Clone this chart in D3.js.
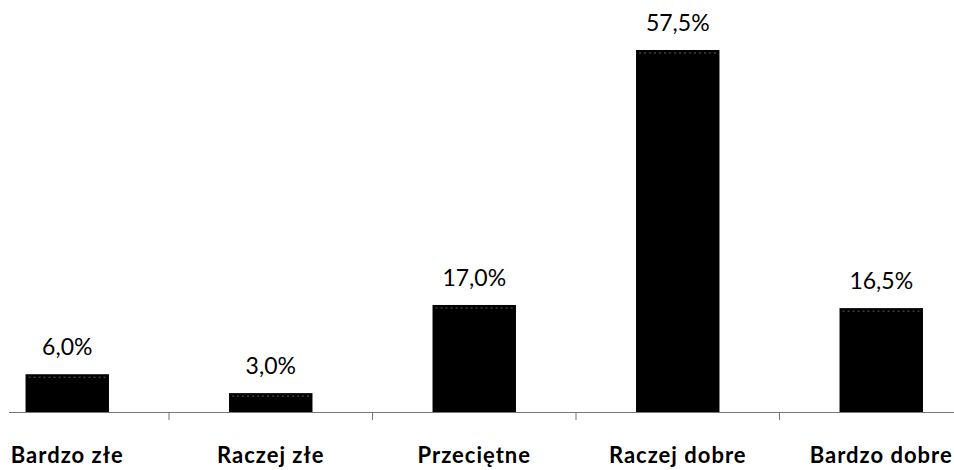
<!DOCTYPE html>
<html><head><meta charset="utf-8">
<script src="https://cdn.jsdelivr.net/npm/d3@7/dist/d3.min.js"></script>
<style>body{margin:0;background:#fff}svg{display:block}</style>
</head><body><svg id="c" width="954" height="470"></svg>
<script>
const categories = ["Bardzo złe", "Raczej złe", "Przeciętne", "Raczej dobre", "Bardzo dobre"];
const values = [6.0, 3.0, 17.0, 57.5, 16.5];
const valueLabels = ["6,0%", "3,0%", "17,0%", "57,5%", "16,5%"];

const svg = d3.select("#c");
const baseY = 412;
const x = d3.scaleBand().domain(categories).range([-34.5, 983]).paddingInner(0.59).paddingOuter(0.295);
const y = d3.scaleLinear().domain([0, 57.5]).range([baseY, 50]);

// bars
svg.selectAll("rect.bar").data(values).join("rect")
  .attr("class","bar")
  .attr("x",(d,i)=>x(categories[i]))
  .attr("width",x.bandwidth())
  .attr("y",d=>y(d))
  .attr("height",d=>baseY-y(d))
  .attr("fill","#000");
// faint texture line at bar tops
svg.selectAll("line.tex").data(values).join("line")
  .attr("x1",(d,i)=>x(categories[i])+3)
  .attr("x2",(d,i)=>x(categories[i])+x.bandwidth()-3)
  .attr("y1",d=>y(d)+3).attr("y2",d=>y(d)+3)
  .attr("stroke","#777").attr("stroke-width",0.8).attr("stroke-dasharray","2,3");

// axis line
svg.append("line").attr("x1",9).attr("x2",954).attr("y1",baseY+0.5).attr("y2",baseY+0.5)
  .attr("stroke","#777").attr("stroke-width",1.2);
// ticks between categories
const step = x.step();
const tickPos = categories.slice(1).map(c => x(c) - (step - x.bandwidth())/2);
svg.selectAll("line.tick").data(tickPos).join("line")
  .attr("x1",d=>d).attr("x2",d=>d).attr("y1",baseY).attr("y2",baseY+8)
  .attr("stroke","#777").attr("stroke-width",1);

// value labels
svg.selectAll("text.val").data(values).join("text")
  .attr("x",(d,i)=>x(categories[i])+x.bandwidth()/2)
  .attr("y",d=>y(d)-19)
  .attr("text-anchor","middle")
  .attr("font-family","Lato, 'Open Sans', sans-serif")
  .attr("font-size",23)
  .attr("fill","#000")
  .text((d,i)=>valueLabels[i]);

// category labels
svg.selectAll("text.cat").data(categories).join("text")
  .attr("x",d=>x(d)+x.bandwidth()/2)
  .attr("y",463)
  .attr("text-anchor","middle")
  .attr("font-family","Lato, 'Open Sans', sans-serif")
  .attr("font-weight","bold")
  .attr("font-size",22)
  .attr("letter-spacing","1px")
  .attr("fill","#000")
  .text(d=>d);
</script></body></html>
